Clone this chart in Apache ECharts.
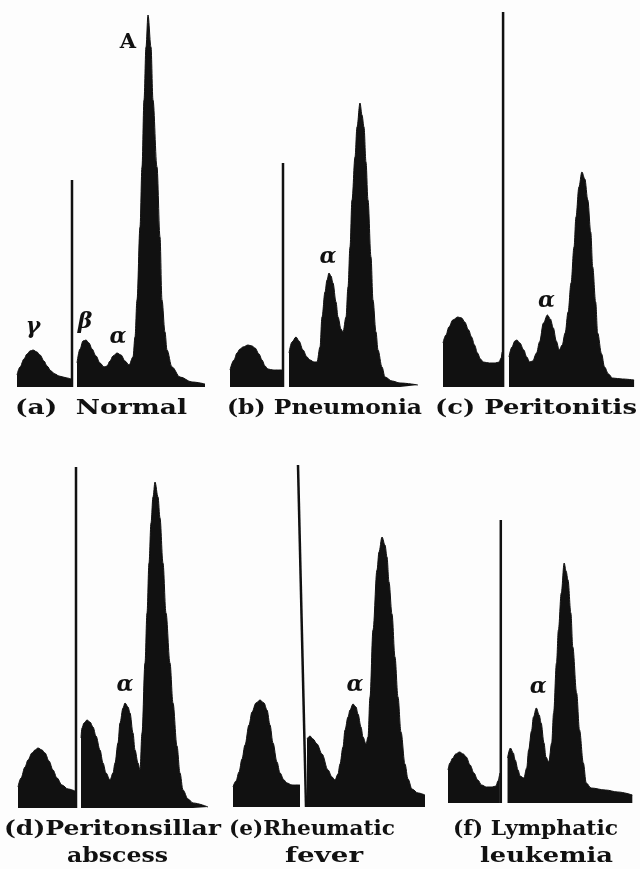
<!DOCTYPE html>
<html><head><meta charset="utf-8">
<script src="https://cdn.jsdelivr.net/npm/echarts@6/dist/echarts.min.js"></script>
<style>html,body{margin:0;padding:0;background:#fdfdfd}#c{width:640px;height:869px}</style>
</head><body><div id="c"></div>
<script>
// ---- DATA: densitometer traces, [migration, density] (arbitrary units) ----
// (a) Normal
const normalGamma = [[0,12],[3,20],[7,28],[10,33],[13,36],[16,37],[20,35],[23,32],[27,26],[30,21],[34,16],[38,13],[42,11],[46,10],[50,9],[54,8]];
const normalMain = [[60,24],[63,38],[66,46],[69,47],[72,44],[75,38],[79,31],[83,24],[87,20],[90,21],[93,26],[96,31],[100,34],[104,32],[108,26],[112,22],[116,30],[118,50],[120,87],[123,160],[125,220],[127,287],[129,340],[131,372],[134,340],[136,287],[140,220],[143,150],[145,87],[148,55],[150,37],[155,20],[163,10],[175,5],[188,3]];
const normalMarker = [[55,0],[55,207]];
// (b) Pneumonia
const pneumoniaGamma = [[0,17],[4,27],[7,34],[10,38],[13,40],[18,42],[22,41],[25,39],[29,33],[32,27],[35,21],[38,18],[43,17],[52,17]];
const pneumoniaMain = [[59,34],[62,45],[66,50],[69,46],[73,37],[77,30],[80,27],[84,25],[87,25],[90,40],[92,70],[95,95],[97,107],[99,114],[101,111],[103,104],[106,85],[108,70],[111,58],[113,55],[116,70],[118,100],[120,140],[122,187],[125,230],[127,260],[130,284],[132,272],[134,260],[136,225],[138,187],[141,130],[143,87],[146,55],[148,37],[152,20],[155,10],[162,6],[170,4],[188,2]];
const pneumoniaMarker = [[53,0],[53,224]];
// (c) Peritonitis
const peritonitisGamma = [[0,44],[3,52],[6,60],[10,67],[15,70],[19,69],[22,65],[26,57],[29,50],[32,42],[35,34],[38,28],[41,25],[47,24],[53,24],[57,25],[59,29],[60,35]];
const peritonitisMain = [[67,30],[70,40],[73,46],[75,47],[78,44],[82,37],[85,30],[88,25],[91,26],[95,34],[98,45],[102,64],[106,72],[109,68],[112,59],[115,46],[118,37],[121,42],[124,54],[127,75],[130,104],[133,140],[135,170],[138,200],[141,215],[144,208],[147,187],[150,155],[152,120],[155,85],[157,54],[161,33],[164,20],[168,13],[172,9],[182,8],[194,7]];
const peritonitisMarker = [[61,0],[61,375]];
// (d) Peritonsillar abscess
const abscessGamma = [[0,21],[3,30],[7,41],[10,48],[14,55],[17,58],[20,60],[24,58],[27,55],[31,47],[35,38],[39,30],[44,23],[50,19],[57,17]];
const abscessMain = [[63,70],[64,80],[66,85],[69,88],[72,86],[75,81],[78,72],[82,58],[85,45],[88,35],[92,28],[95,35],[97,45],[100,65],[102,85],[105,100],[107,105],[110,101],[112,95],[115,75],[117,58],[120,45],[122,38],[124,75],[127,145],[129,195],[131,245],[133,285],[135,311],[137,326],[140,311],[142,290],[145,245],[148,195],[152,145],[155,105],[159,62],[162,35],[165,18],[170,9],[175,5],[190,1]];
const abscessMarker = [[58,0],[58,341]];
// (e) Rheumatic fever
const rheumaticGamma = [[0,20],[3,26],[6,35],[9,48],[12,62],[16,82],[19,95],[23,104],[27,107],[31,104],[34,97],[37,82],[40,64],[44,45],[47,34],[51,27],[54,24],[59,22],[67,22]];
const rheumaticMain = [[74,68],[77,71],[80,68],[84,63],[89,53],[95,37],[99,30],[102,27],[105,33],[107,43],[110,60],[112,77],[115,90],[117,97],[120,103],[123,100],[125,93],[128,80],[130,70],[133,63],[135,70],[137,110],[140,177],[144,237],[146,255],[149,270],[152,262],[154,250],[156,225],[159,193],[162,150],[165,110],[168,75],[172,43],[175,28],[179,18],[185,14],[192,12]];
const rheumaticMarker = [[73,0],[65,342]];
// (f) Lymphatic leukemia
const leukemiaGamma = [[0,33],[2,40],[5,45],[8,49],[12,51],[16,49],[19,46],[23,38],[27,30],[31,23],[35,18],[40,16],[46,16],[50,17],[52,22],[54,30]];
const leukemiaMain = [[62,45],[65,55],[68,50],[70,43],[73,33],[75,27],[79,25],[82,35],[84,53],[87,72],[89,86],[92,95],[95,88],[97,80],[100,60],[102,46],[105,41],[108,60],[110,90],[113,140],[115,173],[118,210],[121,240],[123,232],[125,223],[128,190],[130,156],[134,110],[137,73],[141,40],[144,20],[149,15],[164,13],[177,11],[192,8]];
const leukemiaMarker = [[55,0],[55,283]];

const captionLines = [["(a)  Normal"],["(b) Pneumonia"],["(c) Peritonitis"],["(d)Peritonsillar","abscess"],["(e)Rheumatic","fever"],["(f) Lymphatic","leukemia"]];
// [text, peak coord, label offset x, label offset y]
const peakLabels = [
  [["A",[131,372],-20,28],["γ",[16,37],0,-23],["β",[69,47],-1,-18],["α",[100,34],1,-16]],
  [["α",[99,114],-1,-16]],
  [["α",[106,72],-1,-14]],
  [["α",[107,105],0,-18]],
  [["α",[120,103],2,-19]],
  [["α",[92,95],2,-21]]
];

// ---- LAYOUT (pixels) ----
const panelLayout = [
  {left:17, base:387},{left:230, base:387},{left:443, base:387},
  {left:18, base:808},{left:233, base:807},{left:448, base:803}
];
// [left, right, centerY] of each caption line
const captionLayout = [
  [[15,187,409]],
  [[227,422,409]],
  [[435,637,409]],
  [[4,221,830],[67,168,857]],
  [[229,395,830],[285,363,857]],
  [[453,618,830],[480,613,857]]
];
const traces = [
  [normalGamma, normalMain, normalMarker],
  [pneumoniaGamma, pneumoniaMain, pneumoniaMarker],
  [peritonitisGamma, peritonitisMain, peritonitisMarker],
  [abscessGamma, abscessMain, abscessMarker],
  [rheumaticGamma, rheumaticMain, rheumaticMarker],
  [leukemiaGamma, leukemiaMain, leukemiaMarker]
];

const INK = '#111';
const CAP_FONT = 'bold 21px "DejaVu Serif"';
const measureCtx = document.createElement('canvas').getContext('2d');
measureCtx.font = CAP_FONT;

const W = 200, H = 380;
const grid = [], xAxis = [], yAxis = [], series = [], graphic = [];
panelLayout.forEach((p, i) => {
  grid.push({left:p.left, top:p.base - H, width:W, height:H});
  xAxis.push({type:'value', gridIndex:i, min:0, max:W, show:false});
  yAxis.push({type:'value', gridIndex:i, min:0, max:H, show:false});
  const [g, m, mk] = traces[i];
  [g, m].forEach((d, k) => {
    const s = {
      type:'line', xAxisIndex:i, yAxisIndex:i, data:d, smooth:0.35, smoothMonotone:'x',
      showSymbol:false, silent:true, lineStyle:{color:INK, width:1}, itemStyle:{color:INK},
      areaStyle:{color:INK, opacity:1}
    };
    if (k === 1) {
      s.markPoint = {
        symbol:'circle', symbolSize:0, silent:true,
        data: peakLabels[i].map(l => ({
          coord:l[1],
          label:{show:true, position:'inside', formatter:l[0], offset:[l[2], l[3]],
            color:INK, fontFamily:'DejaVu Serif', fontWeight:'bold',
            fontStyle: l[0]==='A' ? 'normal' : 'italic',
            fontSize: l[0]==='A' ? 21 : 22}
        }))
      };
    }
    series.push(s);
  });
  series.push({type:'line', xAxisIndex:i, yAxisIndex:i, data:mk, showSymbol:false, silent:true,
    lineStyle:{color:INK, width:2.5}});
  captionLines[i].forEach((txt, j) => {
    const [l, r, cy] = captionLayout[i][j];
    const sx = (r - l) / measureCtx.measureText(txt).width;
    graphic.push({type:'text', x:(l + r) / 2, y:cy, scaleX:sx,
      style:{text:txt, font:CAP_FONT, fill:INK, align:'center', verticalAlign:'middle'}});
  });
});

const chart = echarts.init(document.getElementById('c'));
chart.setOption({backgroundColor:'#fdfdfd', animation:false, grid, xAxis, yAxis, series, graphic});
</script></body></html>
